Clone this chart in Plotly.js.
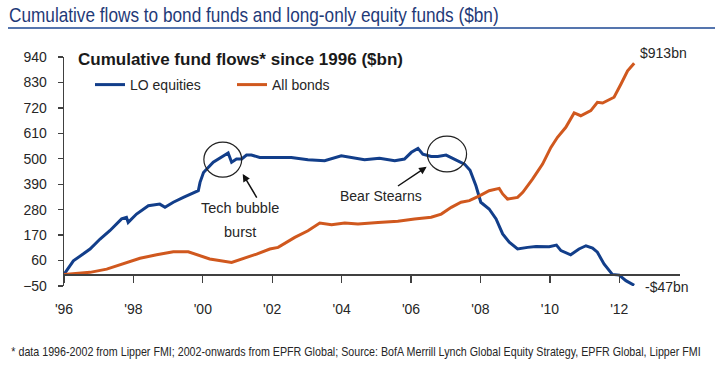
<!DOCTYPE html>
<html>
<head>
<meta charset="utf-8">
<script src="https://cdn.plot.ly/plotly-3.0.1.min.js"></script>
<style>html,body{margin:0;padding:0;background:#fff;}#chart{width:721px;height:383px;}</style>
</head>
<body>
<div id="chart"></div>
<script>
// ---- Data ----
const eqYears = [1996.0, 1996.27, 1996.55, 1996.75, 1997.04, 1997.32, 1997.66, 1997.80, 1997.85, 1998.09, 1998.43, 1998.76, 1998.91, 1999.15, 1999.44, 1999.78, 1999.87, 1999.92, 2000.02, 2000.30, 2000.59, 2000.73, 2000.83, 2000.97, 2001.12, 2001.26, 2001.40, 2001.64, 2001.93, 2002.55, 2003.03, 2003.51, 2003.99, 2004.28, 2004.66, 2005.09, 2005.53, 2005.81, 2006.01, 2006.20, 2006.34, 2006.58, 2006.77, 2007.01, 2007.25, 2007.54, 2007.70, 2007.87, 2008.01, 2008.25, 2008.45, 2008.64, 2008.83, 2009.07, 2009.36, 2009.60, 2009.98, 2010.19, 2010.32, 2010.60, 2010.84, 2011.04, 2011.23, 2011.37, 2011.56, 2011.80, 2012.00, 2012.19, 2012.43];
const eqValues = [0, 59, 88, 110, 153, 189, 240, 247, 225, 261, 297, 304, 290, 312, 333, 355, 362, 398, 441, 485, 513, 525, 485, 499, 499, 516, 516, 506, 506, 506, 496, 492, 513, 506, 496, 502, 492, 499, 528, 545, 520, 510, 510, 516, 499, 477, 450, 383, 312, 283, 240, 175, 139, 110, 117, 121, 120, 127, 103, 85, 110, 124, 114, 96, 45, 0, -3, -27, -47];

const bondYears = [1996.0, 1996.75, 1997.23, 1997.80, 1998.19, 1998.67, 1999.15, 1999.58, 1999.92, 2000.20, 2000.83, 2001.16, 2001.55, 2001.93, 2002.17, 2002.65, 2003.03, 2003.37, 2003.71, 2004.09, 2004.47, 2005.05, 2005.62, 2006.10, 2006.58, 2006.87, 2007.16, 2007.44, 2007.68, 2007.97, 2008.25, 2008.54, 2008.64, 2008.78, 2009.07, 2009.22, 2009.50, 2009.79, 2010.03, 2010.22, 2010.46, 2010.70, 2010.89, 2011.18, 2011.37, 2011.52, 2011.85, 2012.05, 2012.24, 2012.43];
const bondValues = [0, 9, 23, 52, 70, 85, 98, 98, 81, 67, 52, 67, 88, 110, 117, 160, 189, 222, 215, 222, 218, 225, 230, 240, 247, 261, 290, 312, 319, 340, 362, 372, 348, 326, 333, 355, 412, 477, 549, 593, 636, 698, 686, 708, 744, 741, 766, 823, 880, 913];

const seriesNames = ["LO equities", "All bonds"];
const xTickVals = [1996, 1998, 2000, 2002, 2004, 2006, 2008, 2010, 2012];
const xTickText = ["'96", "'98", "'00", "'02", "'04", "'06", "'08", "'10", "'12"];
const yTickVals = [-50, 60, 170, 280, 390, 500, 610, 720, 830, 940];
const endLabels = ["-$47bn", "$913bn"];

const titleText = "Cumulative flows to bond funds and long-only equity funds ($bn)";
const subtitleText = "Cumulative fund flows* since 1996 ($bn)";
const footText = "* data 1996-2002 from Lipper FMI; 2002-onwards from EPFR Global; Source: BofA Merrill Lynch Global Equity Strategy, EPFR Global, Lipper FMI";

// ---- Layout geometry ----
const W = 721, H = 383;
const M = {l: 64, r: 41, t: 57, b: 97};
const PW = W - M.l - M.r, PH = H - M.t - M.b;
const px = x => (x - M.l) / PW;          // pixel -> paper x
const py = y => (M.t + PH - y) / PH;     // pixel -> paper y

const yRange = [-50, 940];
const xRange = [1996, 2013.75];

const BLUE = "#123E8A", ORANGE = "#D0581E", NAVY = "#1F3A78";
const sans = "Liberation Sans, Arial, sans-serif";

const traces = [
  {x: eqYears, y: eqValues, name: seriesNames[0], type: "scatter", mode: "lines",
   line: {color: BLUE, width: 3}},
  {x: bondYears, y: bondValues, name: seriesNames[1], type: "scatter", mode: "lines",
   line: {color: ORANGE, width: 3}}
];

const lastEq = eqValues.length - 1, lastBond = bondValues.length - 1;

const layout = {
  width: W, height: H,
  margin: M,
  paper_bgcolor: "#ffffff", plot_bgcolor: "#ffffff",
  font: {family: sans, size: 14, color: "#262626"},
  title: {text: titleText, x: 9 / W, xref: "container", xanchor: "left",
          y: 1 - 15 / H, yref: "container", yanchor: "middle",
          font: {family: sans, size: 21, color: NAVY}},
  showlegend: true,
  legend: {orientation: "h", x: px(90), xanchor: "left", y: py(85), yanchor: "middle",
           font: {family: sans, size: 14, color: "#262626"}, bgcolor: "rgba(0,0,0,0)",
           entrywidth: 97, traceorder: "normal"},
  xaxis: {range: xRange, tickvals: xTickVals, ticktext: xTickText,
          anchor: "free", position: (0 - yRange[0]) / (yRange[1] - yRange[0]),
          showline: true, linecolor: "#404040", linewidth: 1.3,
          ticks: "outside", ticklen: 7, tickcolor: "#404040", tickwidth: 1.3,
          ticklabelstandoff: 14,
          showgrid: false, zeroline: false, fixedrange: true,
          tickfont: {family: sans, size: 14, color: "#262626"}},
  yaxis: {range: yRange, tickvals: yTickVals,
          showline: true, linecolor: "#404040", linewidth: 1.3,
          ticks: "outside", ticklen: 5, tickcolor: "#404040", tickwidth: 1.3,
          ticklabelstandoff: 8,
          showgrid: false, zeroline: false, fixedrange: true,
          tickfont: {family: sans, size: 14, color: "#262626"}},
  shapes: [
    // title rule
    {type: "line", xref: "paper", yref: "paper", x0: px(8), x1: px(715), y0: py(28), y1: py(28),
     line: {color: "#5575AE", width: 2}},
    // Tech bubble circle
    {type: "circle", xref: "x", yref: "y", x0: 2000.03, x1: 2001.12, y0: 421, y1: 572,
     line: {color: "#222", width: 1.2}},
    // Bear Stearns circle
    {type: "circle", xref: "x", yref: "y", x0: 2006.47, x1: 2007.60, y0: 443, y1: 598,
     line: {color: "#222", width: 1.2}}
  ],
  annotations: [
    {text: "<b>" + subtitleText + "</b>", xref: "paper", yref: "paper", x: px(76), y: py(59),
     xanchor: "left", yanchor: "middle", showarrow: false,
     font: {family: sans, size: 17, color: "#1a1a1a"}},
    {text: footText, xref: "paper", yref: "paper", x: px(9), y: py(352),
     xanchor: "left", yanchor: "middle", showarrow: false,
     font: {family: sans, size: 12.5, color: "#262626"}},
    {text: endLabels[1], x: bondYears[lastBond], y: bondValues[lastBond], xref: "x", yref: "y",
     xanchor: "left", yanchor: "middle", xshift: 4, yshift: 10, showarrow: false,
     font: {family: sans, size: 14, color: "#262626"}},
    {text: endLabels[0], x: eqYears[lastEq], y: eqValues[lastEq], xref: "x", yref: "y",
     xanchor: "left", yanchor: "middle", xshift: 9, yshift: -2, showarrow: false,
     font: {family: sans, size: 14, color: "#262626"}},
    {text: "Tech bubble", x: 2001.06, y: 287, xref: "x", yref: "y", showarrow: false,
     font: {family: sans, size: 14.5, color: "#262626"}},
    {text: "burst", x: 2001.08, y: 183, xref: "x", yref: "y", showarrow: false,
     font: {family: sans, size: 14.5, color: "#262626"}},
    {text: "Bear Stearns", x: 2005.12, y: 339, xref: "x", yref: "y", showarrow: false,
     font: {family: sans, size: 14, color: "#262626"}},
    // arrows
    {text: "", x: 2001.15, y: 434, ax: 2001.58, ay: 326, xref: "x", yref: "y", axref: "x", ayref: "y",
     showarrow: true, arrowhead: 2, arrowsize: 1, arrowwidth: 1.5, arrowcolor: "#111"},
    {text: "", x: 2006.45, y: 465, ax: 2005.58, ay: 378, xref: "x", yref: "y", axref: "x", ayref: "y",
     showarrow: true, arrowhead: 2, arrowsize: 1, arrowwidth: 1.5, arrowcolor: "#111"}
  ]
};

// Horizontally condense a rendered text element to a target width (emulates a narrow typeface)
function condense(el, targetWidth) {
  if (!el) return;
  const bb = el.getBBox();
  if (!bb.width) return;
  const s = Math.min(1, targetWidth / bb.width);
  const prev = el.getAttribute("transform") || "";
  el.setAttribute("transform", (prev + " translate(" + (bb.x * (1 - s)) + ",0) scale(" + s + ",1)").trim());
}

Plotly.newPlot("chart", traces, layout, {staticPlot: true, displayModeBar: false}).then(function () {
  condense(document.querySelector("#chart .gtitle"), 490);
  document.querySelectorAll("#chart text.annotation-text").forEach(function (t) {
    if (t.textContent === footText) condense(t, 690);
  });
});
</script>
</body>
</html>
